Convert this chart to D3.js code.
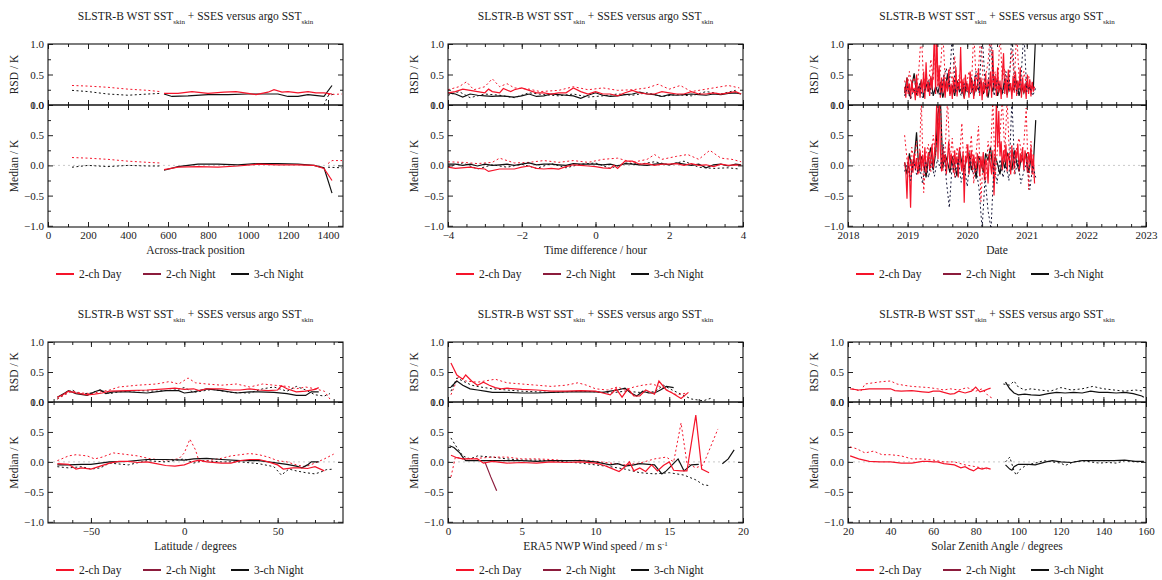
<!DOCTYPE html>
<html>
<head>
<meta charset="utf-8">
<script src="https://cdn.jsdelivr.net/npm/d3@7"></script>
<style>
body { margin: 0; background: #fff; }
text { font-family: "Liberation Serif", "Times New Roman", "DejaVu Serif", serif; fill: #222; }
</style>
</head>
<body>
<script>
var width = 1162, height = 580;
var RED = "#f5142a", MAROON = "#8c1c3c", BLACK = "#111", NAVY = "#1a1a3c";

// ---- across-track position ----
var trackTicks = [0, 200, 400, 600, 800, 1000, 1200, 1400];
var trackRsdDay = [[580,0.19],[650,0.19],[720,0.22],[800,0.19],[880,0.21],[940,0.22],[1000,0.19],[1040,0.17],[1100,0.21],[1130,0.25],[1170,0.21],[1200,0.22],[1250,0.20],[1300,0.22],[1340,0.20],[1380,0.20],[1420,0.18]];
var trackRsdN3 = [[580,0.18],[620,0.14],[700,0.15],[800,0.17],[900,0.17],[1000,0.18],[1100,0.18],[1150,0.18],[1200,0.14],[1250,0.14],[1300,0.17],[1380,0.14],[1420,0.32]];
var trackRsdDayDot = [[120,0.32],[200,0.31],[300,0.29],[400,0.26],[500,0.24],[560,0.22],[null,null],[1400,0.17],[1470,0.18]];
var trackRsdN3Dot = [[120,0.24],[200,0.22],[300,0.18],[400,0.16],[500,0.18],[560,0.19],[null,null],[1380,0.0],[1400,0.15],[1430,0.18]];
var trackMedDay = [[580,-0.07],[650,-0.03],[750,-0.02],[850,-0.03],[950,-0.01],[1050,0.02],[1150,0.01],[1250,0.01],[1330,0.0],[1380,-0.05],[1420,-0.25]];
var trackMedN3 = [[580,-0.08],[650,-0.02],[750,0.02],[850,0.02],[950,0.01],[1050,0.03],[1150,0.03],[1250,0.02],[1330,0.0],[1380,-0.04],[1420,-0.46]];
var trackMedDayDot = [[120,0.13],[200,0.12],[300,0.10],[400,0.07],[500,0.05],[560,0.04],[null,null],[1400,0.03],[1420,0.08],[1470,0.08]];
var trackMedN3Dot = [[120,-0.03],[200,0.0],[300,-0.02],[400,0.0],[500,-0.01],[560,-0.01],[null,null],[1400,-0.03],[1470,-0.04]];

// ---- time difference ----
var timeTicks = [-4, -2, 0, 2, 4];
var timeRsdDay = [[-4,0.20],[-3.8,0.22],[-3.6,0.26],[-3.4,0.24],[-3.2,0.22],[-3,0.20],[-2.9,0.26],[-2.8,0.22],[-2.6,0.20],[-2.5,0.27],[-2.3,0.22],[-2.2,0.25],[-2,0.28],[-1.8,0.24],[-1.6,0.20],[-1.4,0.20],[-1.2,0.18],[-1,0.20],[-0.8,0.20],[-0.6,0.28],[-0.4,0.22],[-0.2,0.18],[0,0.22],[0.2,0.18],[0.4,0.18],[0.6,0.15],[0.8,0.20],[1,0.24],[1.2,0.20],[1.4,0.18],[1.6,0.18],[1.8,0.22],[2,0.20],[2.2,0.18],[2.4,0.18],[2.6,0.22],[2.8,0.18],[3,0.18],[3.2,0.20],[3.4,0.18],[3.6,0.20],[3.8,0.22],[3.95,0.18]];
var timeRsdN3 = [[-4,0.20],[-3.8,0.18],[-3.6,0.13],[-3.4,0.18],[-3.2,0.16],[-3,0.15],[-2.8,0.14],[-2.6,0.15],[-2.4,0.14],[-2.2,0.13],[-2,0.15],[-1.8,0.18],[-1.6,0.14],[-1.4,0.15],[-1.2,0.18],[-1,0.17],[-0.8,0.16],[-0.6,0.15],[-0.4,0.11],[-0.2,0.16],[0,0.20],[0.2,0.16],[0.4,0.14],[0.6,0.15],[0.8,0.17],[1,0.18],[1.2,0.21],[1.4,0.18],[1.6,0.17],[1.8,0.14],[2,0.17],[2.2,0.16],[2.4,0.17],[2.6,0.18],[2.8,0.17],[3,0.16],[3.2,0.18],[3.4,0.17],[3.6,0.19],[3.8,0.20],[3.95,0.18]];
var timeRsdDayDot = [[-4,0.25],[-3.7,0.30],[-3.5,0.38],[-3.3,0.25],[-3,0.30],[-2.8,0.43],[-2.6,0.30],[-2.4,0.35],[-2.2,0.28],[-1.8,0.26],[-1.5,0.22],[-1,0.24],[-0.6,0.30],[-0.2,0.25],[0.2,0.28],[0.6,0.24],[1,0.25],[1.4,0.28],[1.7,0.34],[2,0.26],[2.3,0.32],[2.6,0.22],[3,0.26],[3.3,0.29],[3.6,0.32],[3.9,0.28]];
var timeRsdN3Dot = [[-4,0.16],[-3.7,0.22],[-3.4,0.12],[-3,0.18],[-2.6,0.16],[-2.2,0.12],[-1.8,0.20],[-1.4,0.17],[-1,0.15],[-0.6,0.18],[-0.2,0.13],[0.2,0.15],[0.6,0.18],[1,0.16],[1.4,0.20],[1.8,0.14],[2.2,0.17],[2.6,0.15],[3,0.22],[3.4,0.18],[3.8,0.24]];
var timeMedDay = [[-4,-0.03],[-3.8,-0.05],[-3.4,-0.03],[-3.2,-0.05],[-3,-0.06],[-2.9,-0.10],[-2.6,-0.06],[-2.2,-0.06],[-2,-0.03],[-1.8,-0.01],[-1.6,-0.05],[-1.4,-0.06],[-1.2,-0.05],[-1,-0.06],[-0.8,-0.02],[-0.6,0.01],[-0.4,0.0],[-0.2,-0.01],[0,-0.02],[0.2,-0.04],[0.4,-0.05],[0.5,0.0],[0.6,-0.05],[0.8,0.07],[1,0.07],[1.2,0.02],[1.4,0.03],[1.6,0.0],[1.8,0.02],[2,0.02],[2.2,0.03],[2.4,0.0],[2.6,0.03],[2.8,0.0],[3,0.01],[3.2,-0.02],[3.4,0.02],[3.6,0.0],[3.8,0.01],[3.95,0.0]];
var timeMedN3 = [[-4,0.02],[-3.8,0.02],[-3.6,0.0],[-3.4,0.02],[-3.2,-0.01],[-3,0.02],[-2.8,0.0],[-2.6,0.01],[-2.4,0.02],[-2.2,0.0],[-2,0.02],[-1.8,0.04],[-1.6,0.01],[-1.4,0.02],[-1.2,0.02],[-1,0.01],[-0.8,0.0],[-0.6,0.03],[-0.4,0.02],[-0.2,0.02],[0,0.02],[0.2,0.01],[0.4,0.02],[0.6,-0.01],[0.8,0.03],[1,0.02],[1.2,0.01],[1.4,0.0],[1.6,0.02],[1.8,0.03],[2,0.01],[2.2,0.04],[2.4,0.02],[2.6,0.0],[2.8,0.02],[3,-0.04],[3.2,0.01],[3.4,0.02],[3.6,-0.01],[3.8,0.02],[3.95,0.01]];
var timeMedDayDot = [[-4,0.06],[-3.6,0.05],[-3.2,0.03],[-2.8,0.05],[-2.6,0.12],[-2.2,0.04],[-1.8,0.05],[-1.4,0.08],[-1,0.05],[-0.6,0.08],[-0.2,0.05],[0.2,0.10],[0.6,0.12],[1,0.05],[1.4,0.10],[1.6,0.18],[1.8,0.10],[2.2,0.15],[2.5,0.18],[2.8,0.10],[3.1,0.25],[3.4,0.12],[3.7,0.10],[3.95,0.06]];
var timeMedN3Dot = [[-4,-0.02],[-3.6,0.04],[-3.2,-0.06],[-2.8,0.01],[-2.4,-0.03],[-2,0.02],[-1.6,-0.05],[-1.2,0.03],[-0.8,-0.04],[-0.4,0.02],[0,0.04],[0.4,-0.05],[0.8,0.04],[1.2,0.02],[1.6,0.06],[2,0.01],[2.4,0.07],[2.8,-0.03],[3.2,-0.05],[3.6,-0.04],[3.9,-0.06]];

// ---- date (regular sampling from dateStart) ----
var dateTicks = [2018, 2019, 2020, 2021, 2022, 2023];
var dateStart = 2018.95;
var dateStepFine = 0.02, dateStepCoarse = 0.04, dateStepDot = 0.05;
var dateRsdDay = [0.30,0.12,0.45,0.18,0.35,0.10,0.40,0.20,0.28,0.08,0.50,0.15,0.32,
  0.12,0.42,0.20,0.55,0.10,0.70,0.22,0.38,0.15,0.48,0.25,0.60,
  1.2,0.18,1.2,0.30,0.65,0.12,0.45,
  0.20,0.50,0.12,0.40,0.22,0.58,0.15,0.35,0.10,0.45,0.20,0.62,0.14,0.38,0.25,
  0.95,0.18,0.42,0.10,0.50,0.22,0.35,0.12,0.55,0.20,
  0.40,0.10,0.48,0.22,0.30,0.60,0.15,0.45,0.08,0.38,0.20,0.52,0.14,0.42,0.25,
  0.55,0.12,0.90,0.25,0.48,0.15,0.62,0.20,0.40,0.10,
  0.50,0.85,0.18,0.45,0.12,0.58,0.22,0.36,0.10,0.48,
  0.20,0.55,0.15,0.40,0.25,0.62,0.12,0.45,0.20,0.35,0.10,0.50,0.18,0.42,0.14,0.38,0.22,0.30];
var dateRsdDayDot = [0.40,0.25,0.55,0.30,0.45,0.20,0.60,1.2,0.35,0.50,0.28,0.75,0.40,1.2,0.30,0.55,1.2,0.45,0.25,0.62,
  0.38,0.80,0.30,0.50,0.22,0.45,0.35,0.55,0.28,1.2,0.40,0.60,1.2,0.30,0.48,0.70,1.2,0.35,0.55,0.25,
  1.2,0.42,0.60,0.30,0.50,0.90,0.38,1.2,0.45,0.28,0.55,0.35,0.48,0.30,0.40];
var dateRsdN3 = [0.20,0.45,0.15,0.30,0.52,0.18,0.25,0.40,0.12,0.35,0.22,0.45,0.15,0.30,0.20,0.38,0.12,0.28,0.50,0.18,
  0.32,0.15,0.40,0.22,0.28,0.12,0.36,0.20,0.45,0.15,0.30,0.25,0.40,0.18,0.32,0.12,0.38,0.22,0.45,0.15,
  0.30,0.20,0.42,0.16,0.35,0.22,0.28,0.40,0.15,0.32,0.20,0.36,0.25,0.30,0.28,1.2];
var dateRsdN3Dot = [0.15,0.30,0.10,0.25,0.20,0.35,0.12,0.28,0.40,0.18,0.22,0.30,0.15,0.45,0.60,0.30,1.2,0.20,0.30,0.15,
  0.35,0.22,0.18,0.28,0.55,0.20,1.2,0.35,0.25,1.2,0.15,0.40,0.30,0.20,0.55,0.25,1.2,0.30,0.18,0.40,
  1.2,0.22,0.30,0.15,0.28];
var dateMedDay = [0.05,-0.10,-0.55,0.15,-0.05,-0.70,0.10,-0.12,0.20,-0.08,
  0.12,-0.15,0.05,0.25,-0.10,0.18,-0.05,0.30,-0.12,0.08,
  0.22,-0.08,0.15,0.35,-0.05,0.20,0.45,1.1,0.10,1.1,
  0.25,-0.10,0.30,0.05,0.18,-0.15,0.12,0.40,-0.05,0.20,
  0.08,-0.12,0.25,0.02,0.15,-0.20,0.30,0.05,-0.10,0.22,
  -0.62,0.15,0.05,0.35,-0.15,0.10,0.25,-0.08,0.18,0.02,
  -0.12,0.20,0.08,-0.18,0.15,-0.05,0.22,-0.25,0.10,0.05,
  -0.30,0.18,0.02,-0.15,0.25,-0.50,0.12,1.1,0.30,0.90,
  0.15,0.40,-0.08,0.25,0.05,0.35,-0.10,0.20,0.08,-0.15,
  0.30,0.10,-0.05,0.25,0.12,0.35,-0.10,0.20,0.05,0.30,
  -0.08,0.25,0.10,-0.12,0.22,0.05,0.30,-0.15,0.18,-0.30];
var dateMedDayDot = [0.50,0.10,-0.20,0.30,0.05,0.40,-0.15,1.1,-0.45,0.20,
  0.35,-0.10,0.50,0.15,0.60,1.1,-0.10,0.25,1.1,0.10,
  0.45,-0.20,0.30,0.05,0.70,-0.15,0.35,0.10,0.50,-0.30,
  0.20,0.65,-0.60,0.15,-0.25,0.40,0.10,1.1,-0.20,0.30,
  0.50,1.1,0.20,1.1,0.10,0.35,-0.15,0.30,0.45,0.20,
  0.35,0.95,-0.40,0.40,-0.20];
var dateMedN3 = [0.05,-0.15,0.20,-0.05,0.10,0.55,-0.10,0.15,0.02,-0.20,
  0.12,0.30,-0.08,0.20,0.85,1.1,-0.05,0.18,0.05,-0.12,
  0.15,0.02,-0.18,0.25,0.05,-0.10,0.12,0.20,-0.08,0.10,
  -0.22,0.15,0.05,-0.12,0.20,0.08,0.30,-0.05,0.15,0.02,
  -0.15,0.12,-0.05,0.20,0.10,-0.08,0.25,0.05,-0.10,0.15,
  0.05,0.20,-0.12,0.10,0.02,0.75];
var dateMedN3Dot = [-0.10,0.05,-0.25,0.10,-0.15,0.00,-0.30,0.08,-0.20,0.05,
  -0.18,0.10,-0.05,0.35,-0.25,-0.70,0.05,-0.20,0.10,-0.28,
  0.00,-0.35,0.12,-0.15,-0.05,-0.40,-1.05,-0.20,-0.75,-1.05,
  0.05,-0.30,0.10,-0.20,0.00,-0.25,1.1,-0.15,0.08,-0.30,
  -0.10,0.05,-0.40,0.00,-0.20];

// ---- latitude ----
var latTicks = [-50, 0, 50];
var latRsdDay = [[-68,0.08],[-65,0.12],[-62,0.18],[-58,0.15],[-52,0.12],[-48,0.13],[-44,0.15],[-40,0.18],[-30,0.19],[-20,0.20],[-10,0.22],[-5,0.23],[0,0.21],[5,0.22],[8,0.19],[12,0.22],[20,0.22],[25,0.20],[30,0.20],[35,0.22],[40,0.20],[45,0.19],[50,0.20],[52,0.27],[55,0.22],[60,0.17],[65,0.18],[70,0.21],[72,0.24]];
var latRsdN3 = [[-68,0.08],[-64,0.15],[-62,0.19],[-58,0.14],[-52,0.11],[-48,0.17],[-45,0.20],[-42,0.14],[-38,0.17],[-30,0.17],[-20,0.15],[-10,0.19],[-3,0.19],[0,0.15],[5,0.17],[12,0.22],[20,0.19],[28,0.15],[35,0.17],[40,0.17],[48,0.16],[55,0.14],[60,0.11],[65,0.11],[68,0.17],[72,0.17]];
var latRsdDayDot = [[-68,0.05],[-64,0.12],[-60,0.18],[-55,0.15],[-50,0.14],[-45,0.17],[-40,0.20],[-35,0.25],[-25,0.28],[-15,0.30],[-8,0.34],[-3,0.30],[2,0.40],[6,0.32],[12,0.30],[20,0.28],[28,0.30],[35,0.25],[42,0.30],[48,0.28],[55,0.26],[60,0.22],[65,0.25],[70,0.22],[75,0.18],[78,0.05]];
var latRsdN3Dot = [[-68,0.05],[-63,0.15],[-60,0.20],[-56,0.13],[-50,0.15],[-45,0.20],[-40,0.14],[-35,0.17],[-25,0.19],[-15,0.18],[-5,0.20],[0,0.24],[5,0.16],[15,0.21],[25,0.16],[35,0.15],[42,0.22],[48,0.25],[55,0.18],[60,0.26],[65,0.20],[70,0.12],[75,0.10],[78,0.14]];
var latMedDay = [[-68,-0.03],[-62,-0.04],[-58,-0.12],[-55,-0.10],[-50,-0.12],[-45,-0.07],[-40,-0.02],[-35,0.01],[-30,0.01],[-25,-0.01],[-20,0.0],[-15,-0.03],[-10,-0.06],[-5,-0.07],[0,-0.05],[5,0.01],[8,0.03],[12,0.0],[20,-0.02],[25,-0.02],[30,0.02],[35,0.04],[40,0.04],[45,0.0],[50,-0.05],[53,-0.12],[58,-0.10],[62,-0.10],[66,-0.11],[70,-0.08],[75,-0.15]];
var latMedN3 = [[-68,-0.05],[-62,-0.05],[-55,-0.04],[-50,-0.04],[-45,-0.02],[-40,0.0],[-30,0.01],[-20,0.04],[-10,0.04],[0,0.03],[5,0.05],[12,0.06],[20,0.04],[30,0.02],[40,0.02],[50,-0.02],[55,-0.04],[60,-0.07],[63,-0.10],[66,-0.05],[68,0.0],[72,0.0]];
var latMedDayDot = [[-68,0.02],[-62,0.10],[-58,0.12],[-52,0.10],[-48,0.05],[-44,0.08],[-38,0.15],[-30,0.12],[-25,0.10],[-18,0.05],[-10,0.03],[-3,0.05],[0,0.15],[3,0.38],[6,0.20],[8,0.0],[12,0.02],[20,0.06],[25,0.10],[30,0.12],[35,0.14],[40,0.12],[45,0.08],[50,0.02],[55,0.0],[60,-0.05],[65,-0.08],[70,-0.02],[75,0.05],[80,0.13]];
var latMedN3Dot = [[-68,-0.08],[-62,-0.10],[-55,-0.08],[-50,-0.12],[-45,-0.10],[-40,-0.02],[-30,-0.05],[-20,0.02],[-10,0.0],[0,0.05],[5,-0.02],[10,0.02],[20,0.0],[30,0.0],[40,-0.03],[48,-0.08],[52,-0.22],[56,-0.12],[60,-0.15],[65,-0.18],[70,-0.20],[73,-0.17],[76,-0.13],[80,-0.12]];

// ---- wind speed ----
var windTicks = [0, 5, 10, 15, 20];
var windRsdDay = [[0.2,0.65],[0.6,0.45],[1,0.38],[1.2,0.45],[1.6,0.35],[2,0.28],[2.4,0.33],[2.8,0.28],[3.2,0.24],[3.6,0.22],[4,0.23],[5,0.21],[6,0.20],[7,0.18],[8,0.18],[9,0.19],[10,0.18],[10.5,0.15],[11,0.12],[11.4,0.22],[11.8,0.08],[12.2,0.22],[12.6,0.10],[13,0.10],[13.4,0.20],[14,0.13],[14.3,0.35],[14.8,0.20],[15.2,0.15],[15.8,0.06],[16.3,0.16]];
var windRsdN3 = [[0.2,0.25],[0.6,0.35],[1,0.28],[1.5,0.22],[2,0.20],[2.5,0.18],[3,0.16],[4,0.16],[5,0.15],[6,0.15],[7,0.16],[8,0.17],[9,0.17],[10,0.17],[10.5,0.16],[11,0.18],[11.5,0.20],[12,0.23],[12.4,0.15],[12.8,0.10],[13.2,0.18],[13.6,0.15],[14,0.15],[14.4,0.20],[14.8,0.26],[15.3,0.24]];
var windRsdDayDot = [[0.2,0.12],[0.7,0.42],[1.2,0.35],[2,0.33],[2.5,0.35],[3.2,0.38],[4,0.32],[5,0.30],[6,0.28],[7,0.26],[8,0.28],[8.8,0.32],[9.4,0.28],[10,0.22],[10.8,0.20],[11.5,0.25],[12,0.20],[12.6,0.25],[13.2,0.28],[13.8,0.30],[14.5,0.25],[15,0.18],[15.5,0.12],[16.2,0.15]];
var windRsdN3Dot = [[0.2,0.18],[0.6,0.40],[1,0.35],[1.6,0.28],[2.2,0.25],[3,0.22],[4,0.20],[5,0.18],[6,0.17],[7,0.16],[8,0.17],[9,0.18],[10,0.17],[11,0.15],[12,0.18],[13,0.16],[14,0.17],[14.6,0.28],[15.2,0.20],[15.8,0.13],[16.5,0.05],[17.3,0.02],[17.8,0.06]];
var windMedDay = [[0.2,0.11],[0.6,0.07],[1,0.05],[2,0.05],[2.4,-0.02],[3,0.01],[4,-0.02],[5,-0.01],[6,-0.02],[7,0.0],[8,-0.01],[9,0.0],[10,-0.02],[10.6,-0.06],[11,-0.10],[11.6,-0.16],[12,-0.08],[12.3,0.0],[12.6,-0.15],[13,-0.10],[13.4,-0.16],[13.8,-0.05],[14.2,-0.15],[14.6,-0.06],[15,0.0],[15.3,-0.14],[15.8,-0.15],[16.2,-0.15],[16.8,0.78],[17.2,-0.12],[17.7,-0.18]];
var windMedN2 = [[2.5,0.0],[2.9,-0.25],[3.3,-0.48]];
var windMedN3 = [[0.1,0.27],[0.4,0.24],[0.8,0.15],[1,0.08],[1.2,0.02],[2,0.02],[3,0.02],[4,0.02],[5,0.02],[6,0.01],[7,0.02],[8,0.02],[9,0.02],[10,0.0],[11,-0.05],[11.5,-0.03],[12,-0.07],[12.6,-0.05],[13,-0.03],[13.6,-0.04],[14,-0.05],[14.5,-0.20],[14.8,-0.15],[15.2,-0.05],[15.6,0.05],[16,-0.15],[16.5,-0.05],[17,-0.04],[null,null],[18.6,-0.03],[19,0.05],[19.4,0.20]];
var windMedDayDot = [[0.2,-0.25],[0.5,0.08],[1,0.05],[2,0.06],[3,0.08],[4,0.08],[5,0.05],[6,0.05],[7,0.04],[8,0.02],[9,0.03],[10,0.01],[11,-0.02],[12,-0.05],[13,-0.02],[14,0.05],[14.8,0.08],[15.3,0.0],[15.8,0.65],[16.2,-0.02],[16.8,-0.1],[17.3,-0.05],[18.3,0.55]];
var windMedN3Dot = [[0.2,0.40],[0.5,0.28],[1,0.10],[1.5,0.05],[2,0.10],[3,0.08],[4,0.05],[5,0.03],[6,0.03],[7,0.02],[8,0.0],[9,-0.02],[10,-0.05],[11,-0.08],[12,-0.12],[13,-0.18],[14,-0.20],[15,-0.18],[16,-0.22],[16.8,-0.30],[17.3,-0.38],[17.8,-0.40]];

// ---- solar zenith angle ----
var szaTicks = [20, 40, 60, 80, 100, 120, 140, 160];
var szaRsdDay = [[21,0.22],[25,0.20],[28,0.21],[30,0.22],[35,0.22],[40,0.22],[42,0.19],[45,0.18],[50,0.19],[55,0.17],[58,0.16],[60,0.18],[63,0.18],[65,0.16],[68,0.13],[70,0.14],[72,0.18],[75,0.15],[78,0.18],[80,0.25],[82,0.17],[84,0.19],[86,0.22],[87,0.23]];
var szaRsdDayDot = [[22,0.22],[26,0.18],[28,0.30],[32,0.32],[36,0.34],[40,0.35],[43,0.30],[46,0.28],[50,0.26],[54,0.25],[58,0.24],[62,0.22],[65,0.20],[68,0.22],[72,0.20],[76,0.24],[80,0.18],[83,0.22],[86,0.10],[88,0.06]];
var szaRsdN3 = [[94,0.33],[96,0.22],[98,0.15],[100,0.12],[103,0.13],[106,0.12],[110,0.11],[114,0.14],[118,0.16],[122,0.15],[126,0.16],[130,0.15],[134,0.18],[138,0.16],[142,0.16],[146,0.15],[150,0.16],[154,0.14],[158,0.10],[159,0.08]];
var szaRsdN3Dot = [[93,0.30],[96,0.28],[98,0.35],[100,0.25],[103,0.20],[106,0.22],[110,0.20],[115,0.18],[120,0.24],[125,0.20],[130,0.22],[135,0.26],[140,0.22],[145,0.20],[150,0.18],[155,0.20],[159,0.18]];
var szaMedDay = [[21,0.10],[25,0.05],[30,0.01],[35,0.0],[40,0.0],[45,-0.02],[50,-0.02],[55,0.01],[58,0.01],[60,0.0],[62,0.0],[65,-0.03],[70,-0.05],[73,-0.10],[75,-0.08],[77,-0.12],[79,-0.15],[81,-0.10],[83,-0.12],[85,-0.10],[87,-0.12]];
var szaMedDayDot = [[21,0.25],[24,0.22],[28,0.15],[32,0.18],[36,0.12],[40,0.12],[45,0.10],[50,0.05],[55,0.05],[60,0.03],[65,0.0],[70,0.0],[75,-0.05],[80,-0.08],[85,-0.12]];
var szaMedN3 = [[94,-0.05],[96,-0.12],[97,-0.14],[98,-0.08],[100,-0.04],[105,-0.04],[108,-0.05],[110,-0.03],[113,0.0],[116,0.02],[120,0.0],[125,-0.01],[130,0.02],[135,0.02],[140,0.02],[145,0.02],[150,0.03],[155,0.01],[159,0.01]];
var szaMedN3Dot = [[94,0.0],[96,0.08],[98,-0.15],[99,-0.22],[101,-0.12],[104,-0.05],[108,-0.02],[112,0.02],[116,0.0],[120,-0.02],[122,-0.06],[126,0.0],[130,0.02],[134,0.0],[138,-0.02],[142,-0.01],[146,-0.02],[150,0.02],[155,0.0],[159,0.0]];

var rsdTicks = [0, 0.5, 1];
var medTicks = [-1, -0.5, 0, 0.5, 1];
var legendNames = ["2-ch Day", "2-ch Night", "3-ch Night"];
var legendColors = [RED, MAROON, BLACK];

function regular(values, step) {
  return values.map(function(v, i) { return [dateStart + i * step, v]; });
}

var svg = d3.select("body").append("svg")
  .attr("width", width)
  .attr("height", height);

var clipId = 0;

function drawPanel(p) {
  var g = svg.append("g");
  var x = d3.scaleLinear().domain(p.xDomain).range([p.left, p.right]);
  var yR = d3.scaleLinear().domain([0, 1]).range([p.mid, p.top]);
  var yM = d3.scaleLinear().domain([-1.02, 1]).range([p.bottom, p.mid]);

  // title
  var t = g.append("text")
    .attr("x", (p.left + p.right) / 2)
    .attr("y", p.top - 24)
    .attr("text-anchor", "middle")
    .style("font-size", "11.5px");
  t.append("tspan").text("SLSTR-B WST SST");
  t.append("tspan").attr("dy", 4).style("font-size", "7px").text("skin");
  t.append("tspan").attr("dy", -4).text(" + SSES versus argo SST");
  t.append("tspan").attr("dy", 4).style("font-size", "7px").text("skin");

  // zero line in median panel
  g.append("line")
    .attr("x1", p.left).attr("x2", p.right)
    .attr("y1", yM(0)).attr("y2", yM(0))
    .attr("stroke", "#bbb").attr("stroke-width", 0.8)
    .attr("stroke-dasharray", "2,3");

  var line = function(ys) {
    return d3.line()
      .defined(function(d) { return d[0] != null && d[1] != null; })
      .x(function(d) { return x(d[0]); })
      .y(function(d) { return ys(d[1]); });
  };

  [["rsd", yR, p.top, p.mid], ["med", yM, p.mid, p.bottom]].forEach(function(part) {
    var id = "clip" + (clipId++);
    svg.append("clipPath").attr("id", id).append("rect")
      .attr("x", p.left).attr("y", part[2])
      .attr("width", p.right - p.left).attr("height", part[3] - part[2]);
    var cg = g.append("g").attr("clip-path", "url(#" + id + ")");
    p[part[0]].forEach(function(s) {
      cg.append("path")
        .datum(s.data)
        .attr("d", line(part[1]))
        .attr("fill", "none")
        .attr("stroke", s.color)
        .attr("stroke-width", s.dash ? 1 : 1.2)
        .attr("stroke-dasharray", s.dash ? "2,2.5" : null);
    });
  });

  // axes with inward ticks
  function yAxes(scale, major, minor) {
    var a = g.append("g").attr("transform", "translate(" + p.left + ",0)")
      .call(d3.axisLeft(scale).tickValues(major).tickSize(-5).tickPadding(4)
        .tickFormat(d3.format(".1f")));
    a.append("g").call(d3.axisLeft(scale).tickValues(minor).tickSize(-3).tickFormat(""));
    var b = g.append("g").attr("transform", "translate(" + p.right + ",0)")
      .call(d3.axisRight(scale).tickValues(major).tickSize(-5).tickFormat(""));
    b.append("g").call(d3.axisRight(scale).tickValues(minor).tickSize(-3).tickFormat(""));
  }
  yAxes(yR, rsdTicks, [0.25, 0.75]);
  yAxes(yM, medTicks, [-0.75, -0.25, 0.25, 0.75]);

  // orient: axisTop with negative size -> ticks point down, axisBottom -> ticks point up
  function xAxis(y, ax, labels) {
    var a = g.append("g").attr("transform", "translate(0," + y + ")")
      .call(ax(x).tickValues(p.ticks).tickSize(-5).tickPadding(4)
        .tickFormat(labels ? d3.format("d") : ""));
    a.append("g").call(ax(x).tickValues(p.minor).tickSize(-3).tickFormat(""));
  }
  xAxis(p.top, d3.axisTop, false);
  xAxis(p.mid, d3.axisBottom, false);
  xAxis(p.mid, d3.axisTop, false);
  xAxis(p.bottom, d3.axisBottom, true);

  g.selectAll(".domain").remove();
  g.selectAll(".tick line").attr("stroke", "#222");
  g.selectAll(".tick text")
    .style("font-family", "'Liberation Serif', 'Times New Roman', serif")
    .style("font-size", "11px")
    .attr("fill", "#222");

  // frames
  g.append("rect").attr("x", p.left).attr("y", p.top)
    .attr("width", p.right - p.left).attr("height", p.bottom - p.top)
    .attr("fill", "none").attr("stroke", "#111").attr("stroke-width", 1.1);
  g.append("line").attr("x1", p.left).attr("x2", p.right)
    .attr("y1", p.mid).attr("y2", p.mid)
    .attr("stroke", "#111").attr("stroke-width", 1.4);

  // axis titles
  g.append("text")
    .attr("transform", "translate(" + (p.left - 30) + "," + ((p.top + p.mid) / 2) + ") rotate(-90)")
    .attr("text-anchor", "middle").style("font-size", "11.5px").text("RSD / K");
  g.append("text")
    .attr("transform", "translate(" + (p.left - 30) + "," + ((p.mid + p.bottom) / 2) + ") rotate(-90)")
    .attr("text-anchor", "middle").style("font-size", "11.5px").text("Median / K");
  var xt = g.append("text")
    .attr("x", (p.left + p.right) / 2).attr("y", p.bottom + 27)
    .attr("text-anchor", "middle").style("font-size", "11.5px").text(p.xLabel);
  if (p.sup) xt.append("tspan").attr("dy", -4).style("font-size", "7px").text(p.sup);

  // legend
  var offs = [8, 95, 183];
  legendNames.forEach(function(name, i) {
    var lx = p.left + offs[i], ly = p.bottom + 47;
    g.append("line").attr("x1", lx).attr("x2", lx + 18)
      .attr("y1", ly).attr("y2", ly)
      .attr("stroke", legendColors[i]).attr("stroke-width", 2);
    g.append("text").attr("x", lx + 23).attr("y", ly + 4)
      .style("font-size", "11.5px").text(name);
  });
}

var colLeft = [48, 448, 848], colRight = [343, 743, 1146];
var rowTop = [44, 342], rowMid = [105, 402], rowBottom = [227, 523];

function S(data, color, dash) { return { data: data, color: color, dash: dash }; }

var panels = [
  { xDomain: [0, 1475], ticks: trackTicks, minor: d3.range(100, 1475, 100), xLabel: "Across-track position",
    rsd: [S(trackRsdN3Dot, BLACK, true), S(trackRsdDayDot, RED, true), S(trackRsdN3, BLACK), S(trackRsdDay, RED)],
    med: [S(trackMedN3Dot, BLACK, true), S(trackMedDayDot, RED, true), S(trackMedN3, BLACK), S(trackMedDay, RED)] },
  { xDomain: [-4, 4], ticks: timeTicks, minor: d3.range(-3.5, 4, 0.5), xLabel: "Time difference / hour",
    rsd: [S(timeRsdN3Dot, BLACK, true), S(timeRsdDayDot, RED, true), S(timeRsdN3, BLACK), S(timeRsdDay, RED)],
    med: [S(timeMedN3Dot, BLACK, true), S(timeMedDayDot, RED, true), S(timeMedN3, BLACK), S(timeMedDay, RED)] },
  { xDomain: [2018, 2023], ticks: dateTicks, minor: d3.range(2018.25, 2023, 0.25), xLabel: "Date",
    rsd: [S(regular(dateRsdN3, dateStepCoarse), BLACK), S(regular(dateRsdDay, dateStepFine), RED),
          S(regular(dateRsdN3Dot, dateStepDot), NAVY, true), S(regular(dateRsdDayDot, dateStepCoarse), RED, true)],
    med: [S(regular(dateMedN3, dateStepCoarse), BLACK), S(regular(dateMedDay, dateStepFine), RED),
          S(regular(dateMedN3Dot, dateStepDot), NAVY, true), S(regular(dateMedDayDot, dateStepCoarse), RED, true)] },
  { xDomain: [-73, 85], ticks: latTicks, minor: d3.range(-70, 85, 10), xLabel: "Latitude / degrees",
    rsd: [S(latRsdN3Dot, BLACK, true), S(latRsdDayDot, RED, true), S(latRsdN3, BLACK), S(latRsdDay, RED)],
    med: [S(latMedN3Dot, BLACK, true), S(latMedDayDot, RED, true), S(latMedN3, BLACK), S(latMedDay, RED)] },
  { xDomain: [0, 20], ticks: windTicks, minor: d3.range(1, 20, 1), xLabel: "ERA5 NWP Wind speed / m s", sup: "-1",
    rsd: [S(windRsdN3Dot, BLACK, true), S(windRsdDayDot, RED, true), S(windRsdN3, BLACK), S(windRsdDay, RED)],
    med: [S(windMedN3Dot, BLACK, true), S(windMedDayDot, RED, true), S(windMedN3, BLACK), S(windMedN2, MAROON), S(windMedDay, RED)] },
  { xDomain: [20, 160], ticks: szaTicks, minor: d3.range(25, 160, 5), xLabel: "Solar Zenith Angle / degrees",
    rsd: [S(szaRsdN3Dot, BLACK, true), S(szaRsdDayDot, RED, true), S(szaRsdN3, BLACK), S(szaRsdDay, RED)],
    med: [S(szaMedN3Dot, BLACK, true), S(szaMedDayDot, RED, true), S(szaMedN3, BLACK), S(szaMedDay, RED)] }
];

panels.forEach(function(p, i) {
  var c = i % 3, r = Math.floor(i / 3);
  p.left = colLeft[c]; p.right = colRight[c];
  p.top = rowTop[r]; p.mid = rowMid[r]; p.bottom = rowBottom[r];
  drawPanel(p);
});
</script>
</body>
</html>
